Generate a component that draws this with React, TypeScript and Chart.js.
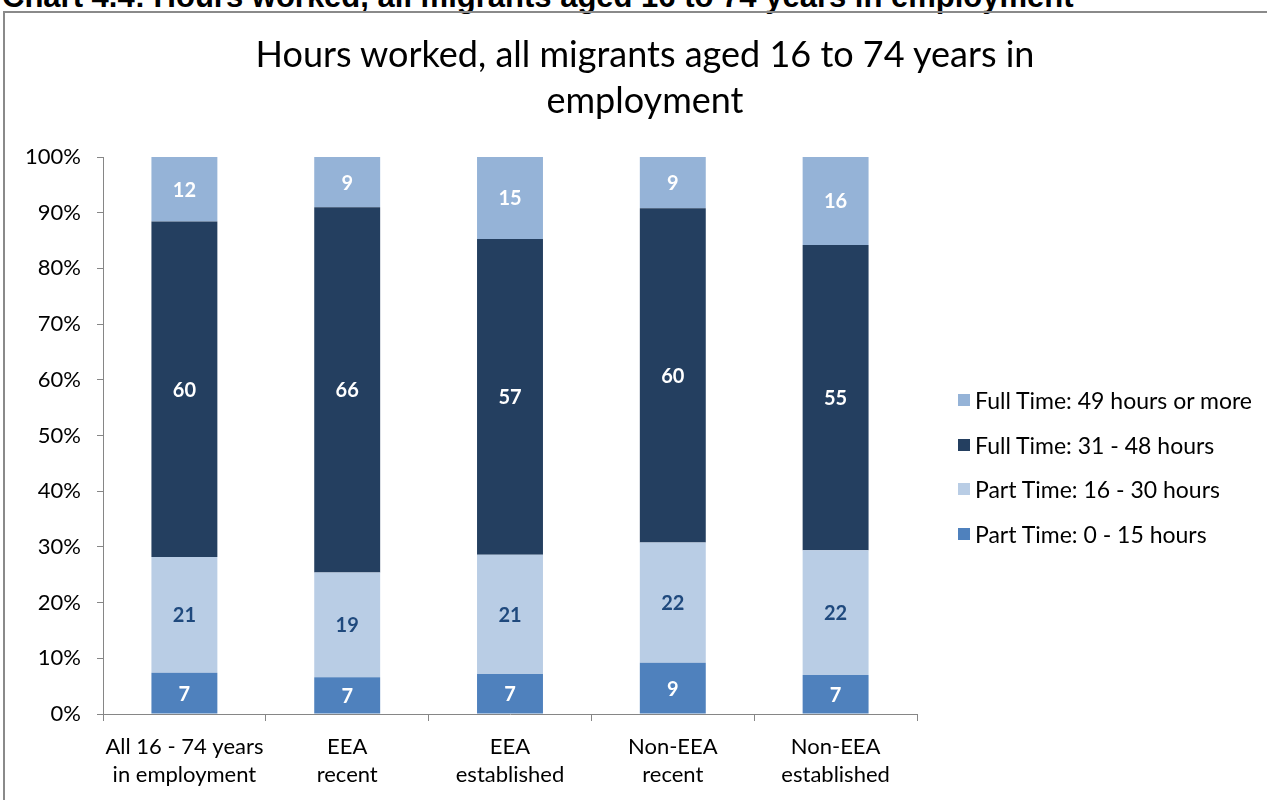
import React, { useEffect, useRef } from "react";
import { Chart, registerables } from "chart.js";

Chart.register(...registerables);

const CATEGORIES: string[][] = [
  ["All 16 - 74 years", "in employment"],
  ["EEA", "recent"],
  ["EEA", "established"],
  ["Non-EEA", "recent"],
  ["Non-EEA", "established"],
];

const SERIES_NAMES = [
  "Part Time: 0 - 15 hours",
  "Part Time: 16 - 30 hours",
  "Full Time: 31 - 48 hours",
  "Full Time: 49 hours or more",
];

const PT_0_15 = [7.4, 6.6, 7.2, 9.2, 7.0];
const PT_16_30 = [20.8, 18.8, 21.4, 21.6, 22.4];
const FT_31_48 = [60.2, 65.6, 56.7, 60.0, 54.8];
const FT_49_PLUS = [11.6, 9.0, 14.7, 9.2, 15.8];

const SERIES_VALUES = [PT_0_15, PT_16_30, FT_31_48, FT_49_PLUS];
const SERIES_COLORS = ["#4F81BD", "#B9CDE5", "#243F60", "#95B3D7"];
const LABEL_COLORS = ["#FFFFFF", "#1F497D", "#FFFFFF", "#FFFFFF"];

const Y_MIN = 0;
const Y_MAX = 100;
const Y_STEP = 10;

const TITLE_LINES = ["Hours worked, all migrants aged 16 to 74 years in", "employment"];
const HEADER = "Chart 4.4: Hours worked, all migrants aged 16 to 74 years in employment";

const FONT = "Lato, 'Open Sans', sans-serif";

const valueLabels = {
  id: "valueLabels",
  afterDatasetsDraw(chart: any) {
    const ctx = chart.ctx;
    ctx.save();
    ctx.font = `bold 20px ${FONT}`;
    ctx.textAlign = "center";
    ctx.textBaseline = "middle";
    chart.data.datasets.forEach((ds: any, di: number) => {
      const meta = chart.getDatasetMeta(di);
      meta.data.forEach((el: any, i: number) => {
        const v = ds.data[i];
        const cy = (el.y + el.base) / 2;
        ctx.fillStyle = LABEL_COLORS[di];
        ctx.fillText(String(Math.round(v)), el.x, cy + 1);
      });
    });
    ctx.restore();
  },
};

export default function App() {
  const canvasRef = useRef<HTMLCanvasElement | null>(null);

  useEffect(() => {
    if (!canvasRef.current) return;
    const chart = new Chart(canvasRef.current, {
      type: "bar",
      data: {
        labels: CATEGORIES,
        datasets: SERIES_VALUES.map((vals, i) => ({
          label: SERIES_NAMES[i],
          data: vals,
          backgroundColor: SERIES_COLORS[i],
          borderWidth: 0,
          barPercentage: 0.405,
          categoryPercentage: 1.0,
        })),
      },
      options: {
        responsive: false,
        animation: false,
        layout: { padding: { left: 0, top: 144, right: 350, bottom: 0 } },
        plugins: {
          legend: { display: false },
          title: { display: false },
          tooltip: { enabled: false },
        },
        scales: {
          x: {
            stacked: true,
            grid: {
              drawOnChartArea: false,
              tickLength: 7,
              color: "#868686",
              offset: true,
            },
            border: { color: "#868686", width: 1 },
            ticks: {
              color: "#000",
              font: { family: FONT, size: 22, lineHeight: 1.27 },
              padding: 12,
              maxRotation: 0,
              autoSkip: false,
            },
            afterFit: (scale: any) => {
              scale.height = 86;
            },
          },
          y: {
            stacked: true,
            min: Y_MIN,
            max: Y_MAX,
            grid: {
              drawOnChartArea: false,
              tickLength: 6,
              color: "#868686",
            },
            border: { color: "#868686", width: 1 },
            ticks: {
              stepSize: Y_STEP,
              color: "#000",
              font: { family: FONT, size: 22 },
              padding: 16,
              callback: (v: any) => `${v}%`,
            },
            afterFit: (scale: any) => {
              scale.width = 99;
            },
          },
        },
      },
      plugins: [valueLabels],
    });
    return () => chart.destroy();
  }, []);

  const legendOrder = [3, 2, 1, 0];

  return (
    <div
      style={{
        position: "absolute",
        left: 0,
        top: 0,
        width: 1267,
        height: 800,
        overflow: "hidden",
        background: "#fff",
      }}
    >
      <div
        style={{
          position: "absolute",
          left: 2,
          top: -19,
          whiteSpace: "nowrap",
          font: "bold 31px 'Liberation Sans', Arial, sans-serif",
          lineHeight: "31px",
          color: "#000",
        }}
      >
        {HEADER}
      </div>
      <div
        style={{
          position: "absolute",
          left: 3,
          top: 11,
          width: 1400,
          height: 900,
          border: "2px solid #8a8a8a",
        }}
      />
      <canvas
        ref={canvasRef}
        width={1263}
        height={787}
        style={{ position: "absolute", left: 4, top: 13 }}
      />
      <div
        style={{
          position: "absolute",
          left: 0,
          width: 1290,
          top: 30,
          textAlign: "center",
          fontFamily: FONT,
          fontSize: 36,
          lineHeight: "46px",
          color: "#000",
          whiteSpace: "nowrap",
        }}
      >
        {TITLE_LINES.map((t, i) => (
          <div key={i}>{t}</div>
        ))}
      </div>
      {legendOrder.map((si, k) => (
        <div
          key={si}
          style={{
            position: "absolute",
            left: 958,
            top: 400 + k * 44.7 - 13,
            height: 26,
            display: "flex",
            alignItems: "center",
            fontFamily: FONT,
            fontSize: 23,
            color: "#000",
            whiteSpace: "nowrap",
          }}
        >
          <span
            style={{
              display: "inline-block",
              width: 12,
              height: 12,
              background: SERIES_COLORS[si],
              marginRight: 5,
            }}
          />
          {SERIES_NAMES[si]}
        </div>
      ))}
    </div>
  );
}
